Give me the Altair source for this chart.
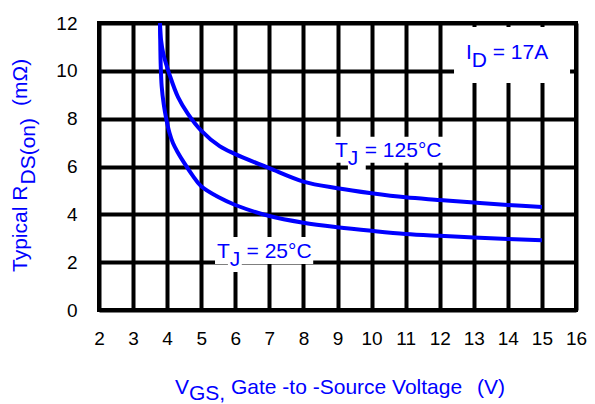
import altair as alt
import pandas as pd

# ---- data ----
vgs_25 = [3.79, 3.80, 3.81, 3.84, 3.90, 3.98, 4.07, 4.17, 4.30, 4.50, 4.75, 5.0, 5.5, 6, 7, 8, 9, 10, 11, 12, 13, 14, 15]
rds_25 = [12.0, 11.0, 10.3, 9.35, 8.6, 7.95, 7.4, 6.98, 6.62, 6.15, 5.62, 5.17, 4.72, 4.39, 3.93, 3.65, 3.46, 3.31, 3.18, 3.10, 3.03, 2.97, 2.92]

vgs_125 = [3.79, 3.82, 3.89, 4.08, 4.32, 4.61, 5.0, 5.54, 6, 7, 8, 9, 10, 11, 12, 13, 14, 15]
rds_125 = [12.0, 11.3, 10.7, 9.8, 8.9, 8.2, 7.5, 6.85, 6.52, 5.93, 5.37, 5.09, 4.88, 4.71, 4.60, 4.49, 4.39, 4.31]

x_ticks = list(range(2, 17))
y_ticks = list(range(0, 13, 2))

# in-plot annotation pieces (data coordinates)
label_text = ["T", "J", "= 125°C", "T", "J", "= 25°C", "I", "D", "= 17A"]
label_x = [8.93, 9.30, 9.80, 5.46, 5.836, 6.33, 12.77, 12.94, 13.555]
label_y = [6.41, 6.08, 6.41, 2.16, 1.84, 2.16, 10.48, 10.16, 10.48]

# white boxes behind annotations (data coordinates)
box_x = [8.84, 9.305, 5.405, 5.784, 12.42]
box_x2 = [12.13, 9.829, 8.287, 6.191, 15.825]
box_y = [6.159, 5.812, 1.923, 1.589, 9.49]
box_y2 = [7.246, 6.899, 3.052, 2.676, 11.83]

BLUE = "#0000FF"
FONT = "Liberation Sans"

curves = pd.DataFrame(
    {
        "vgs": vgs_25 + vgs_125,
        "rds": rds_25 + rds_125,
        "series": ["25"] * len(vgs_25) + ["125"] * len(vgs_125),
    }
)
labels = pd.DataFrame({"text": label_text, "x": label_x, "y": label_y})
boxes = pd.DataFrame({"x": box_x, "x2": box_x2, "y": box_y, "y2": box_y2})
one_row = pd.DataFrame({"k": [0]})

xscale = alt.Scale(domain=[2, 16], nice=False, zero=False)
yscale = alt.Scale(domain=[0, 12], nice=False)

xaxis = alt.Axis(
    values=x_ticks, grid=True, gridColor="black", gridWidth=4, gridOpacity=1,
    domain=False, ticks=False, tickSize=0, labelFontSize=19, labelColor="black",
    labelFont=FONT, labelPadding=19, labelFlush=False, labelOverlap=False, title=None,
)
yaxis = alt.Axis(
    values=y_ticks, grid=True, gridColor="black", gridWidth=4, gridOpacity=1,
    domain=False, ticks=False, tickSize=0, labelFontSize=19, labelColor="black",
    labelFont=FONT, labelPadding=22, labelFlush=False, labelOverlap=False, title=None,
)

base_lines = alt.Chart(curves).mark_line(
    interpolate="catmull-rom", strokeWidth=4, color=BLUE
).encode(
    x=alt.X("vgs:Q", scale=xscale, axis=xaxis),
    y=alt.Y("rds:Q", scale=yscale, axis=yaxis),
    detail="series:N",
    order=alt.Order("vgs:Q"),
)

rects = alt.Chart(boxes).mark_rect(color="white").encode(
    x=alt.X("x:Q", scale=xscale, axis=xaxis), x2="x2:Q",
    y=alt.Y("y:Q", scale=yscale, axis=yaxis), y2="y2:Q",
)

texts = alt.Chart(labels).mark_text(
    align="left", baseline="alphabetic", font=FONT, fontSize=21, color=BLUE
).encode(
    x=alt.X("x:Q", scale=xscale, axis=xaxis),
    y=alt.Y("y:Q", scale=yscale, axis=yaxis),
    text="text:N",
)


def title_piece(txt, px, py, angle=0):
    kw = dict(align="left", baseline="alphabetic", font=FONT, fontSize=21, color=BLUE, text=txt)
    if angle:
        kw["angle"] = angle
    return alt.Chart(one_row).mark_text(**kw).encode(x=alt.value(px), y=alt.value(py))


# x axis title: "V_GS, Gate -to -Source Voltage  (V)"
xt1 = title_piece("V", 76, 371)
xt2 = title_piece("GS,", 90, 377)
xt3 = title_piece("Gate -to -Source Voltage", 132, 371)
xt4 = title_piece("(V)", 378, 371)
# y axis title: "Typical R_DS(on)  (mΩ)"
yt1 = title_piece("Typical R", -72.3, 249, 270)
yt2 = title_piece("DS(on)", -64.3, 161.5, 270)
yt3 = title_piece("(mΩ)", -72.3, 83, 270)

chart = alt.layer(base_lines, rects, texts, xt1, xt2, xt3, xt4, yt1, yt2, yt3).properties(
    width=477,
    height=287,
    padding={"left": 91, "top": 15, "right": 11, "bottom": 94},
    autosize=alt.AutoSizeParams(type="none"),
).configure_view(stroke="black", strokeWidth=4)

chart.save("out.html", embed_options={"renderer": "svg", "actions": False})
